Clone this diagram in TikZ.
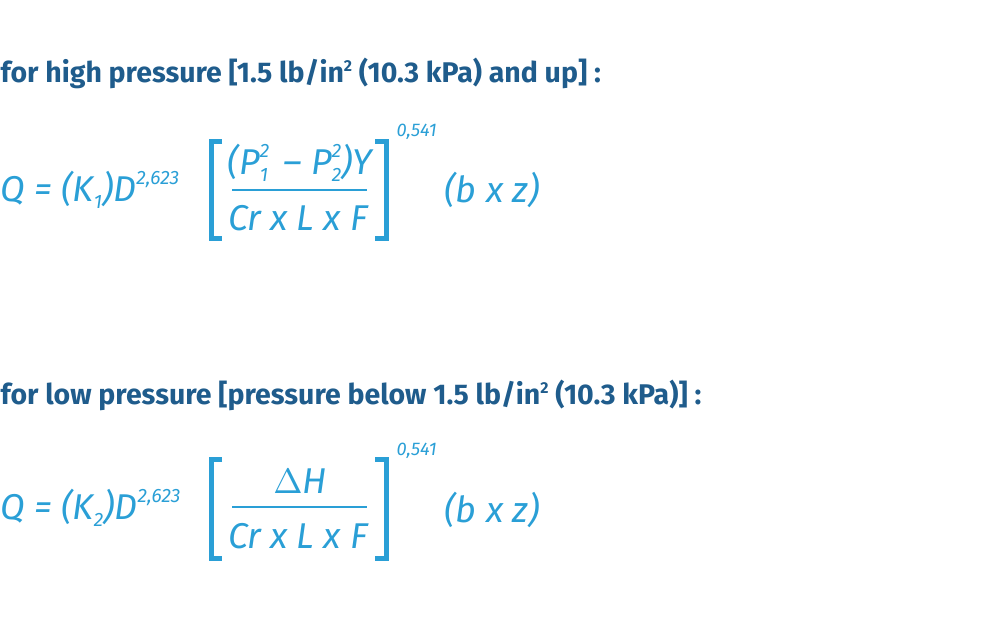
\documentclass[tikz,border=0pt]{standalone}
\usepackage{fontspec}
\setmainfont{Fira Sans}
\usepackage{xcolor}
\definecolor{headblue}{HTML}{1F5C8C}
\definecolor{formblue}{HTML}{2A9FD6}
\tikzset{
  heading/.style={anchor=base west, inner sep=0pt, text=headblue, font=\fontsize{8.1}{9}\selectfont\bfseries},
  formula/.style={inner sep=0pt, text=formblue, font=\fontsize{10.2}{12}\selectfont\itshape},
  expo/.style={anchor=base west, inner sep=0pt, text=formblue, font=\fontsize{5.2}{6}\selectfont\itshape},
  brack/.style={draw=formblue, line width=0.05cm},
  fracline/.style={draw=formblue, line width=0.4pt}
}
\newcommand{\lowsub}[1]{\raisebox{-0.35ex}{\fontsize{5.5}{6}\selectfont #1}}
\newcommand{\upsup}[1]{\raisebox{0.9ex}{\fontsize{5.5}{6}\selectfont #1}}
\newcommand{\supsub}[2]{\makebox[0pt][l]{\upsup{#1}}\lowsub{#2}}
\newcommand{\sqsup}{\raisebox{0.75ex}{\fontsize{4.5}{5}\selectfont 2}}
\begin{document}
\begin{tikzpicture}[x=0.01cm, y=-0.01cm]
\useasboundingbox (0,0) rectangle (1000,628);
% high pressure
\node[heading] (h1) at (0,83) {for high pressure [1.5 lb/in\sqsup{} (10.3 kPa) and up] :};
\node[formula, anchor=west] (q1) at (0,190) {Q = (K\lowsub{1})D\upsup{2,623}};
\draw[brack] (222,142) -- (211,142) -- (211,239) -- (222,239);
\draw[brack] (375,142) -- (386,142) -- (386,239) -- (375,239);
\node[formula] (n1) at (300,163) {(P\supsub{2}{1}\, -- P\supsub{2}{2})Y};
\draw[fracline] (232,190) -- (367,190);
\node[formula] (d1) at (298,218) {Cr x L x F};
\node[expo] (e1) at (396,137) {0,541};
\node[formula] (b1) at (492,190) {(b x z)};
% low pressure
\node[heading] (h2) at (0,405) {for low pressure [pressure below 1.5 lb/in\sqsup{} (10.3 kPa)] :};
\node[formula, anchor=west] (q2) at (0,508) {Q = (K\lowsub{2})D\upsup{2,623}};
\draw[brack] (222,460) -- (211,460) -- (211,559) -- (222,559);
\draw[brack] (375,460) -- (386,460) -- (386,559) -- (375,559);
\node[formula] (n2) at (300,481) {$\Delta$H};
\draw[fracline] (232,507) -- (367,507);
\node[formula] (d2) at (298,536) {Cr x L x F};
\node[expo] (e2) at (396,456) {0,541};
\node[formula] (b2) at (492,510) {(b x z)};
\end{tikzpicture}
\end{document}
